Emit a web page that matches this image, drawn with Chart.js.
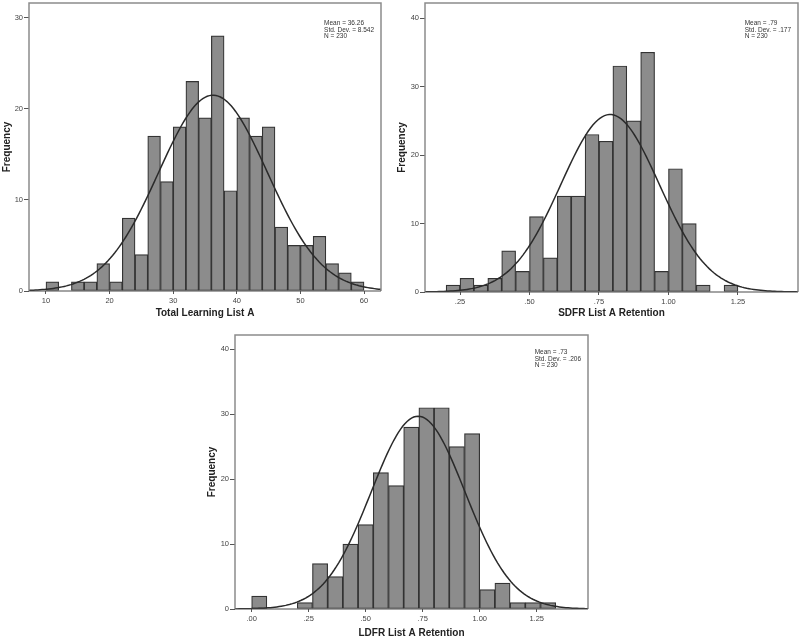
<!DOCTYPE html>
<html>
<head>
<meta charset="utf-8">
<script src="https://cdn.jsdelivr.net/npm/chart.js@4.4.1/dist/chart.umd.min.js"></script>
<style>
  html, body { margin: 0; padding: 0; background: #fff; }
  body { width: 800px; height: 639px; position: relative; overflow: hidden; }
  canvas { position: absolute; }
</style>
</head>
<body>
<canvas id="tla" width="395" height="320" style="left:0;top:0"></canvas>
<canvas id="sdfr" width="405" height="320" style="left:395px;top:0"></canvas>
<canvas id="ldfr" width="400" height="319" style="left:200px;top:320px"></canvas>
<script>
// Total Learning List A
const tlaStarts = [10, 12, 14, 16, 18, 20, 22, 24, 26, 28, 30, 32, 34, 36, 38, 40, 42, 44, 46, 48, 50, 52, 54, 56, 58];
const tlaCounts = [1, 0, 1, 1, 3, 1, 8, 4, 17, 12, 18, 23, 19, 28, 11, 19, 17, 18, 7, 5, 5, 6, 3, 2, 1];
const tlaXTicks = [10, 20, 30, 40, 50, 60];
const tlaYTicks = [0, 10, 20, 30];
const tlaFit = [36.26, 8.542, 230]; // mean, sd, n
const tlaStatText = ['Mean = 36.26', 'Std. Dev. = 8.542', 'N = 230'];

// SDFR List A Retention
const sdfrStarts = [0.20, 0.25, 0.30, 0.35, 0.40, 0.45, 0.50, 0.55, 0.60, 0.65, 0.70, 0.75, 0.80, 0.85, 0.90, 0.95, 1.00, 1.05, 1.10, 1.15, 1.20];
const sdfrCounts = [1, 2, 1, 2, 6, 3, 11, 5, 14, 14, 23, 22, 33, 25, 35, 3, 18, 10, 1, 0, 1];
const sdfrXTicks = [0.25, 0.50, 0.75, 1.00, 1.25];
const sdfrYTicks = [0, 10, 20, 30, 40];
const sdfrFit = [0.79, 0.177, 230];
const sdfrStatText = ['Mean = .79', 'Std. Dev. = .177', 'N = 230'];

// LDFR List A Retention
const ldfrStarts = [0, 0.066667, 0.133333, 0.2, 0.266667, 0.333333, 0.4, 0.466667, 0.533333, 0.6, 0.666667, 0.733333, 0.8, 0.866667, 0.933333, 1.0, 1.066667, 1.133333, 1.2, 1.266667];
const ldfrCounts = [2, 0, 0, 1, 7, 5, 10, 13, 21, 19, 28, 31, 31, 25, 27, 3, 4, 1, 1, 1];
const ldfrXTicks = [0, 0.25, 0.50, 0.75, 1.00, 1.25];
const ldfrYTicks = [0, 10, 20, 30, 40];
const ldfrFit = [0.73, 0.206, 230];
const ldfrStatText = ['Mean = .73', 'Std. Dev. = .206', 'N = 230'];

const FONT = "'Liberation Sans', Arial, sans-serif";
const fmtDec = v => v.toFixed(2).replace(/^0/, '');

// frame around the plot + the stats box in the upper right corner
const framePlugin = {
  id: 'frame',
  afterDraw(chart) {
    const { ctx, chartArea: a } = chart;
    ctx.save();
    ctx.strokeStyle = '#8c8c8c';
    ctx.lineWidth = 1.5;
    ctx.beginPath();
    ctx.moveTo(a.left, a.bottom);
    ctx.lineTo(a.left, a.top);
    ctx.lineTo(a.right, a.top);
    ctx.lineTo(a.right, a.bottom);
    ctx.stroke();
    ctx.strokeStyle = '#4a4a4a';
    ctx.lineWidth = 1.2;
    ctx.beginPath();
    ctx.moveTo(a.left, a.bottom);
    ctx.lineTo(a.right, a.bottom);
    ctx.stroke();

    const lines = chart.options.plugins.frame.lines;
    const top = chart.options.plugins.frame.top;
    ctx.font = '6.5px ' + FONT;
    ctx.fillStyle = '#333';
    ctx.textBaseline = 'middle';
    const w = Math.max(...lines.map(t => ctx.measureText(t).width));
    lines.forEach((t, i) => ctx.fillText(t, a.right - 7 - w, a.top + top + i * 6.8));
    ctx.restore();
  }
};

function makeHist(id, p) {
  const bars = p.starts.map((s, i) => ({ x: s + p.width / 2, y: p.counts[i] }));
  const [mean, sd, n] = p.fit;
  const curve = [];
  for (let i = 0; i <= 160; i++) {
    const x = p.xMin + (p.xMax - p.xMin) * i / 160;
    const z = (x - mean) / sd;
    curve.push({ x, y: n * p.width * Math.exp(-0.5 * z * z) / (sd * Math.sqrt(2 * Math.PI)) });
  }
  new Chart(document.getElementById(id), {
    type: 'bar',
    data: {
      datasets: [
        { type: 'line', data: curve, borderColor: '#2a2a2a', borderWidth: 1.5, pointRadius: 0, tension: 0, order: 0 },
        { data: bars, backgroundColor: '#8c8c8c', borderColor: '#333', borderWidth: 1.2, borderSkipped: false,
          categoryPercentage: 1, barPercentage: 1, order: 1 }
      ]
    },
    options: {
      responsive: false,
      animation: false,
      layout: { padding: { left: 0, right: p.padRight, top: p.padTop, bottom: 0 } },
      plugins: { legend: { display: false }, tooltip: { enabled: false }, frame: { lines: p.stats, top: p.statTop } },
      scales: {
        x: {
          type: 'linear', min: p.xMin, max: p.xMax, offset: false,
          afterBuildTicks: s => { s.ticks = p.xTicks.map(v => ({ value: v })); },
          afterFit: s => { s.height = p.xHeight; s.paddingLeft = 0; s.paddingRight = 0; },
          grid: { display: true, drawOnChartArea: false, drawTicks: true, tickLength: 3, color: '#555', offset: false },
          border: { display: false },
          ticks: { font: { family: FONT, size: 7.5 }, color: '#444', padding: 2, maxRotation: 0, autoSkip: false,
                   callback: v => p.fmt(v) },
          title: { display: true, text: p.xTitle, font: { family: FONT, size: 10, weight: 'bold' }, color: '#222',
                   padding: { top: 0, bottom: p.xTitlePad } }
        },
        y: {
          min: 0, max: p.yMax,
          afterBuildTicks: s => { s.ticks = p.yTicks.map(v => ({ value: v })); },
          afterFit: s => { s.width = p.yWidth; s.paddingTop = 0; s.paddingBottom = 0; },
          grid: { display: true, drawOnChartArea: false, drawTicks: true, tickLength: 5, color: '#555' },
          border: { display: false },
          ticks: { font: { family: FONT, size: 7.5 }, color: '#444', padding: 1 },
          title: { display: true, text: 'Frequency', font: { family: FONT, size: 10, weight: 'bold' }, color: '#222',
                   padding: { top: p.yTitlePad, bottom: 0 } }
        }
      }
    },
    plugins: [framePlugin]
  });
}

makeHist('tla', {
  starts: tlaStarts, counts: tlaCounts, width: 2, fit: tlaFit, stats: tlaStatText,
  xTicks: tlaXTicks, yTicks: tlaYTicks, xMin: 7.33, xMax: 62.67, yMax: 31.6,
  fmt: v => String(v), xTitle: 'Total Learning List A',
  padRight: 14, padTop: 3, xHeight: 29, yWidth: 29, xTitlePad: 1, yTitlePad: 1, statTop: 20
});

makeHist('sdfr', {
  starts: sdfrStarts, counts: sdfrCounts, width: 0.05, fit: sdfrFit, stats: sdfrStatText,
  xTicks: sdfrXTicks, yTicks: sdfrYTicks, xMin: 0.124, xMax: 1.466, yMax: 42.2,
  fmt: fmtDec, xTitle: 'SDFR List A Retention',
  padRight: 2, padTop: 3, xHeight: 28, yWidth: 30, xTitlePad: 1, yTitlePad: 1, statTop: 20
});

makeHist('ldfr', {
  starts: ldfrStarts, counts: ldfrCounts, width: 1 / 15, fit: ldfrFit, stats: ldfrStatText,
  xTicks: ldfrXTicks, yTicks: ldfrYTicks, xMin: -0.073, xMax: 1.475, yMax: 42.2,
  fmt: fmtDec, xTitle: 'LDFR List A Retention',
  padRight: 12, padTop: 15, xHeight: 30, yWidth: 35, xTitlePad: 0, yTitlePad: 6, statTop: 17
});
</script>
</body>
</html>
